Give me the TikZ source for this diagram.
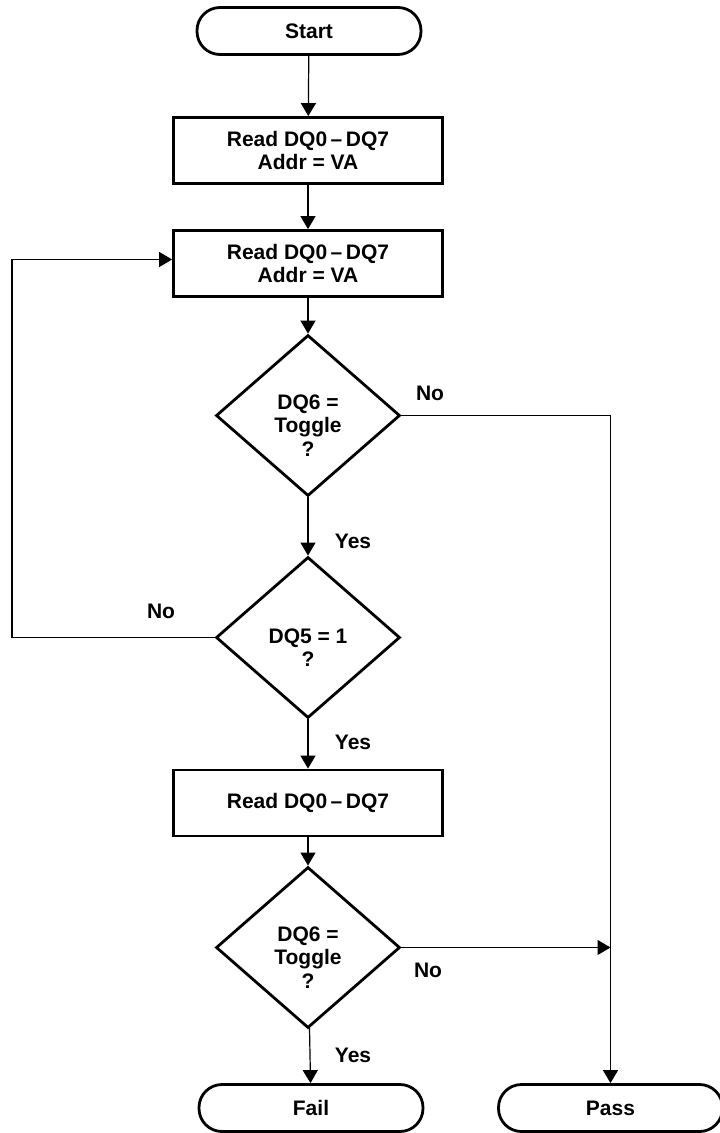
\documentclass[tikz,border=0pt]{standalone}
\usepackage{fontspec}
\setmainfont{Liberation Sans}
\usetikzlibrary{shapes.geometric,arrows.meta}

\begin{document}
\begin{tikzpicture}[x=1pt,y=-1pt,
  term/.style={draw,line width=2.8pt,rounded corners=23pt,minimum width=224pt,minimum height=47pt,inner sep=0pt},
  proc/.style={draw,line width=2.8pt,minimum width=269pt,minimum height=66pt,align=center,inner sep=0pt},
  decide/.style={draw,diamond,line width=2.8pt,minimum width=184pt,minimum height=161pt,inner sep=0pt},
  flow/.style={line width=1.2pt,-{Triangle[length=13pt,width=15pt]}},
  font=\fontsize{21}{23.5}\selectfont\bfseries]
\useasboundingbox (0,0) rectangle (720,1133);
% main column
\node[term] (start) at (309,31) {Start};
\node[proc] (rd1) at (308,150.5) {Read DQ0\,–\,DQ7\\Addr = VA};
\node[proc] (rd2) at (308,263.5) {Read DQ0\,–\,DQ7\\Addr = VA};
\node[decide] (tg1) at (308,415.5) {};
\node[label={[yshift=-10pt,align=center]center:{DQ6 =\\Toggle\\?}}] at (tg1) {};
\node[decide] (dq5) at (308,637.5) {};
\node[label={[yshift=-10pt,align=center]center:{DQ5 = 1\\?}}] at (dq5) {};
\node[proc] (rd3) at (308,803) {Read DQ0\,–\,DQ7};
\node[decide] (tg2) at (308,947.5) {};
\node[label={[yshift=-10pt,align=center]center:{DQ6 =\\Toggle\\?}}] at (tg2) {};
\node[term] (fail) at (311,1108) {Fail};
\node[term] (pass) at (610.5,1108) {Pass};
% helper points
\coordinate (back) at (12,637.5);
\coordinate (join) at (pass.north |- tg2.east);
% connectors
\draw[flow] (start) -- (rd1);
\draw[flow] (rd1) -- (rd2);
\draw[flow] (rd2) -- (tg1);
\draw[flow] (tg1) -- (dq5);
\draw[flow] (dq5) -- (rd3);
\draw[flow] (rd3) -- (tg2);
\draw[flow] (tg2) -- (fail);
\draw[flow] (tg1.east) -| (pass.north);
\draw[flow] (tg2.east) -- (join);
\draw[flow] (dq5.west) -- (back) |- ([yshift=4pt]rd2.west);
% labels
\node (no1) at (430,393) {No};
\node (no2) at (161,611) {No};
\node (no3) at (428,970) {No};
\node (yes1) at (353,541) {Yes};
\node (yes2) at (353,742) {Yes};
\node (yes3) at (353,1055) {Yes};
\end{tikzpicture}
\end{document}
